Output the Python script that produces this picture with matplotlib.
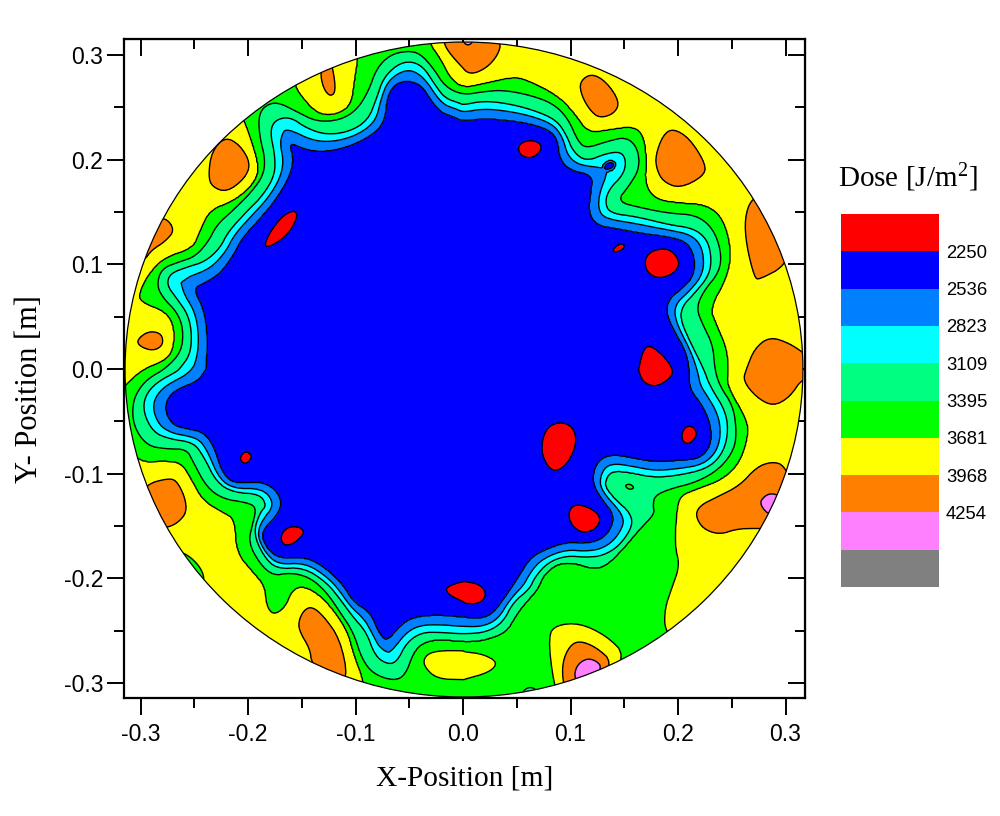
import numpy as np
import matplotlib
matplotlib.use("Agg")
import matplotlib.pyplot as plt
from matplotlib.path import Path
from matplotlib.patches import Ellipse
from matplotlib.colors import ListedColormap

plt.rcParams['mathtext.fontset'] = 'custom'
plt.rcParams['mathtext.rm'] = 'Liberation Serif'
plt.rcParams['mathtext.default'] = 'rm'

# calibration of the digitised picture quadrants to metres
def _conv(pts, ox, oy):
    p = np.array(pts, float)
    return np.c_[(ox + p[:, 0] / 3 - 463) / 1075, (369 - (oy + p[:, 1] / 3)) / 1047]
def nw(p): return _conv(p, 120, 35)
def ne(p): return _conv(p, 463, 35)
def sw(p): return _conv(p, 120, 369)
def se(p): return _conv(p, 463, 369)
def join(*a): return np.vstack(a)

dose_levels = [2250, 2536, 2823, 3109, 3395, 3681, 3968, 4254]
band_colors = ['#ff0000', '#0000ff', '#0080ff', '#00ffff', '#00ff80',
               '#00ff00', '#ffff00', '#ff8000', '#ff80ff', '#808080']
x_ticks = [-0.3, -0.2, -0.1, 0.0, 0.1, 0.2, 0.3]

# iso-dose line 2536
iso_2536 = join(
    nw([(258,1002),(262,900),(250,820),(218,760),(260,740),(300,715),(340,660),(365,610),(420,550),(470,490),
        (510,420),(520,370),(505,320),(560,345),(620,350),(700,330),(770,290),(795,250),(800,190),(820,150),
        (860,135),(905,150),(930,190),(960,230),(1000,245)]),
    ne([(0,258),(60,250),(130,255),(200,265),(260,285),(285,315),(290,370),(320,405),(390,420),(385,470),
        (377,530),(400,570),(460,580),(540,595),(620,605),(670,620),(695,660),(695,720),(660,760),(620,790),
        (610,830),(630,880),(670,950),(680,1002)]),
    se([(680,60),(720,110),(745,170),(745,230),(710,270),(650,275),(580,280),(520,270),(460,258),(420,265),
        (395,295),(390,345),(420,395),(450,430),(450,470),(420,510),(370,525),(310,520),(240,545),(200,570),
        (170,620),(130,680),(90,735),(50,750),(0,745)]),
    sw([(950,738),(880,745),(840,770),(800,820),(775,790),(750,730),(700,700),(670,650),(620,600),(560,565),
        (480,570),(440,540),(420,490),(470,440),(485,400),(465,360),(420,338),(340,345),(305,310),(280,230),
        (250,190),(200,180),(160,170),(135,130),(140,90),(170,60),(235,35),(254,5)]))

# iso-dose line 3109
iso_3109 = join(
    nw([(180,1000),(210,960),(216,900),(205,840),(170,790),(140,750),(150,715),(205,695),(255,680),(300,640),
        (325,590),(380,530),(430,480),(465,420),(465,360),(450,290),(465,255),(510,245),(560,280),(620,300),
        (690,290),(745,255),(770,190),(790,130),(830,90),(870,78),(910,95),(945,150),(975,190),(1020,205)]),
    ne([(0,210),(60,198),(130,205),(210,225),(280,255),(310,300),(330,350),(370,380),(430,355),(475,350),
        (490,380),(480,420),(440,460),(425,500),(440,535),(520,545),(620,570),(690,580),(730,610),(745,660),
        (740,720),(690,780),(660,810),(650,850),(680,920),(722,1002)]),
    se([(740,50),(790,130),(795,200),(775,260),(730,300),(640,320),(570,325),(500,310),(450,305),(430,325),
        (425,355),(460,395),(500,430),(510,470),(470,530),(420,560),(370,565),(310,560),(255,580),(215,625),
        (200,660),(150,700),(120,760),(70,790),(0,795)]),
    sw([(960,790),(905,790),(860,820),(830,880),(800,885),(765,860),(740,790),(700,745),(660,690),(620,640),
        (550,595),(470,600),(430,560),(400,490),(420,430),(440,410),(420,375),(340,370),(290,340),(250,260),
        (220,220),(150,210),(100,190),(70,130),(75,80),(110,40),(170,8)]))

# iso-dose line 3395
iso_3395 = join(
    nw([(135,1002),(185,950),(190,880),(170,830),(130,790),(110,750),(125,700),(180,680),(225,665),(265,620),
        (290,570),(340,525),(395,470),(430,420),(435,370),(420,310),(415,250),(430,215),(470,200),(530,230),
        (590,260),(660,255),(710,225),(745,170),(770,100),(810,60),(860,48),(900,55),(940,100),(975,155)]),
    ne([(0,180),(60,170),(120,165),(200,180),(270,205),(315,250),(345,320),(370,340),(430,320),(490,305),
        (525,340),(530,400),(500,450),(460,500),(540,520),(620,535),(700,540),(750,580),(775,650),(770,710),
        (720,770),(700,820),(720,870),(750,930),(755,1002)]),
    se([(770,50),(810,110),(820,180),(815,240),(770,300),(700,340),(620,360),(575,380),(570,410),(575,435),
        (530,480),(480,540),(430,590),(390,600),(330,580),(280,585),(240,620),(225,660),(180,710),(155,745),
        (130,790),(60,815),(0,818)]),
    sw([(960,810),(910,820),(880,850),(855,920),(820,935),(760,915),(725,870),(700,790),(660,730),(620,670),
        (570,625),(510,610),(460,620),(420,585),(385,520),(400,460),(410,415),(380,400),(310,390),(260,355),
        (220,280),(200,240),(140,240),(80,230),(40,170),(38,100),(60,55),(90,25)]))

# iso-dose line 3681 (runs outside the disc where green meets the rim)
iso_3681 = join(
    nw([(70,1003),(130,980),(160,950),(165,880),(140,830),(60,800),(60,770),(85,720),(130,670),(220,640),
        (240,590),(270,525),(340,500),(400,450),(420,400),(390,300),(372,255),(360,220),(440,130),(530,100),
        (520,150),(560,205),(600,240),(650,240),(695,210),(705,130),(715,68),(710,10),(930,-30),(925,22),
        (960,70),(990,130)]),
    ne([(0,160),(70,145),(150,127),(190,135),(280,180),(330,230),(375,295),(440,285),(510,275),(540,300),
        (550,370),(545,450),(580,495),(650,505),(730,510),(780,550),(805,650),(790,730),(740,820),(760,870),
        (790,940),(795,1002)]),
    se([(790,50),(850,150),(855,200),(830,280),(780,330),(700,360),(650,380),(640,430),(635,530),(650,590),
        (625,660),(605,720),(605,785),(650,830),(500,960),(300,1060),(100,1060)]),
    sw([(900,1060),(730,1010),(735,945),(700,850),(685,790),(640,720),(590,670),(545,650),(515,665),(495,715),
        (460,738),(440,710),(435,650),(400,610),(350,550),(345,450),(310,430),(250,395),(220,340),(185,280),
        (130,275),(60,280),(-25,200),(-30,100),(20,45)]))

# closed patches: (outline, level, +1 above level inside / -1 below level inside)
yellow_patches = [
    (join(se([(272,948),(255,800),(280,768),(350,762),(430,800),(490,860),(420,970),(300,1010)])), 3681, 1),
    (join(sw([(1035,845),(950,845),(915,860),(910,890),(950,930),(1035,932)]),
          se([(0,932),(80,910),(105,880),(60,855),(0,848)])), 3681, 1),
]
green_patches = [
    (sw([(178,545),(220,570),(250,610),(252,645),(200,650),(140,570)]), 3681, -1),
]
orange_patches = [
    (nw([(620,50),(600,110),(610,160),(630,185),(648,170),(638,95)]), 3968, 1),
    (nw([(315,305),(360,330),(392,385),(375,430),(320,472),(275,455),(265,420),(275,350)]), 3968, 1),
    (nw([(135,545),(165,585),(135,620),(95,645),(70,680),(40,640),(80,560)]), 3968, 1),
    (nw([(50,915),(85,888),(125,895),(130,930),(100,948),(60,935)]), 3968, 1),
    (join(nw([(980,-30),(970,20),(985,50),(1020,90)]), ne([(20,120),(70,100),(105,60),(115,20),(60,-30)])), 3968, 1),
    (ne([(350,140),(385,115),(430,140),(470,200),(455,235),(410,250),(380,225),(355,180)]), 3968, 1),
    (ne([(578,360),(600,300),(630,280),(680,310),(730,390),(720,425),(650,460),(600,440),(580,400)]), 3968, 1),
    (ne([(865,490),(845,550),(850,630),(875,730),(890,733),(968,692),(1000,600),(920,470)]), 3968, 1),
    (join(ne([(850,1002),(875,940),(920,905),(980,925),(1030,960),(1090,1002)]),
          se([(1060,40),(1020,25),(980,85),(930,112),(880,85),(840,35)])), 3968, 1),
    (se([(965,288),(925,278),(880,295),(830,350),(760,385),(710,410),(697,440),(720,480),(770,497),(820,480),
         (875,478),(930,480),(1000,380)]), 3968, 1),
    (se([(300,945),(298,880),(320,830),(350,815),(400,835),(450,880),(400,970),(320,990)]), 3968, 1),
    (sw([(80,345),(145,328),(170,335),(195,385),(200,430),(175,460),(145,475),(100,480),(50,400)]), 3968, 1),
    (sw([(535,760),(550,725),(575,712),(610,740),(660,810),(685,930),(640,960),(575,885),(570,840),(540,790)]), 3968, 1),
]
violet_patches = [
    (join(ne([(0,-20),(0,22),(15,32),(30,22),(30,-20)])), 4254, 1),
    (se([(888,405),(905,380),(930,372),(970,390),(925,445)]), 4254, 1),
    (se([(333,930),(340,890),(370,868),(400,875),(418,897),(370,970)]), 4254, 1),
]
tiny_patches = [
    (se([(175,970),(200,952),(225,965),(200,985)]), 3395, -1),
    (se([(484,350),(500,344),(515,356),(500,363)]), 3395, 1),
    (ne([(420,403),(435,382),(455,385),(445,402)]), 2536, -1),
]
red_patches = [
    (nw([(430,640),(450,590),(490,540),(525,525),(533,545),(510,590),(470,625)]), 2250, -1),
    (ne([(165,330),(195,315),(230,322),(237,345),(205,372),(170,360)]), 2250, -1),
    (ne([(448,645),(470,625),(487,630),(478,645),(455,652)]), 2250, -1),
    (ne([(545,670),(570,645),(620,640),(652,680),(635,715),(585,732),(550,710)]), 2250, -1),
    (join(ne([(527,1002),(540,945),(560,930),(600,960),(630,1002)]), se([(625,25),(580,55),(540,40),(527,5)])), 2250, -1),
    (se([(235,220),(255,170),(300,158),(335,180),(340,230),(310,290),(270,310),(240,270)]), 2250, -1),
    (se([(655,195),(670,170),(695,175),(702,200),(680,225),(660,220)]), 2250, -1),
    (se([(315,430),(335,405),(380,415),(415,445),(400,480),(360,493),(325,470)]), 2250, -1),
    (join(sw([(975,660),(1000,645),(1035,637)]), se([(0,637),(50,645),(72,675),(50,705),(0,703)]), sw([(1035,700),(990,680)])), 2250, -1),
    (sw([(360,262),(378,245),(398,262),(380,285),(365,280)]), 2250, -1),
    (sw([(480,500),(505,472),(545,475),(553,495),(520,525),(490,530)]), 2250, -1),
]

def chaikin(p, n=2):
    for _ in range(n):
        q = np.roll(p, -1, axis=0)
        out = np.empty((2 * len(p), 2))
        out[0::2] = 0.75 * p + 0.25 * q
        out[1::2] = 0.25 * p + 0.75 * q
        p = out
    return p

gx = np.linspace(-0.33, 0.33, 680)
gy = np.linspace(-0.33, 0.33, 680)
X, Y = np.meshgrid(gx, gy)

def signed_dist(poly, X, Y):
    """Positive outside the closed outline, negative inside."""
    p = chaikin(poly)
    q = np.roll(p, -1, axis=0)
    d2 = np.full(X.shape, np.inf)
    for a, b in zip(p, q):
        ab = b - a
        t = np.clip(((X - a[0])*ab[0] + (Y - a[1])*ab[1]) / max(ab @ ab, 1e-14), 0, 1)
        d2 = np.minimum(d2, (X - a[0] - t*ab[0])**2 + (Y - a[1] - t*ab[1])**2)
    inside = Path(p).contains_points(np.c_[X.ravel(), Y.ravel()]).reshape(X.shape)
    return np.where(inside, -1, 1) * np.sqrt(d2)

d1 = signed_dist(iso_2536, X, Y)
dm = signed_dist(iso_3109, X, Y)
d2 = signed_dist(iso_3395, X, Y)
d3 = signed_dist(iso_3681, X, Y)

def frac(a, b):
    return np.abs(a) / (np.abs(a) + np.abs(b) + 1e-9)

Z = np.minimum(3681 + 3000*d3, 3800)
m = d3 <= 0
Z[m] = (3395 + 286*frac(d2, d3))[m]
m = d2 <= 0
Z[m] = (3109 + 286*frac(dm, d2))[m]
m = dm <= 0
Z[m] = (2536 + 573*frac(d1, dm)**1.16)[m]
m = d1 <= 0
Z[m] = np.maximum(2536 + 3000*d1, 2320)[m]

SLOPE, BAND, CAP = 80000.0, 0.002, 110.0
for group in (yellow_patches, green_patches, orange_patches, violet_patches, tiny_patches, red_patches):
    for poly, level, sign in group:
        pad = 0.004
        ix = np.where((gx > poly[:, 0].min() - pad) & (gx < poly[:, 0].max() + pad))[0]
        iy = np.where((gy > poly[:, 1].min() - pad) & (gy < poly[:, 1].max() + pad))[0]
        if len(ix) == 0 or len(iy) == 0:
            continue
        sx = np.ix_(iy, ix)
        sd = signed_dist(poly, X[sx], Y[sx])
        zsub = Z[sx]
        in_mask = sd <= 0
        band_mask = (sd > 0) & (sd < BAND)
        zsub[in_mask] = level + sign*np.minimum(-sd[in_mask]*SLOPE, CAP)
        zsub[band_mask] = level - sign*sd[band_mask]*SLOPE
        Z[sx] = zsub

fig = plt.figure(figsize=(10.0, 8.16), dpi=100)
ax = fig.add_axes([124/1000, 1 - 698/816, 681/1000, 659/816])
ax.set_xlim((124 - 463)/1075, (805 - 463)/1075)
ax.set_ylim((369 - 698)/1047, (369 - 39)/1047)

rim = Ellipse((0.0009, -0.0005), 2*0.3153, 2*0.3128, facecolor='none', edgecolor='black', lw=0.9, zorder=5)
ax.add_patch(rim)
fill_levels = [1500] + dose_levels + [5000]
cf = ax.contourf(X, Y, Z, levels=fill_levels, colors=band_colors[:9])
cl = ax.contour(X, Y, Z, levels=dose_levels, colors='black', linewidths=1.0)
cf.set_clip_path(rim)
cl.set_clip_path(rim)

minor = np.arange(-0.25, 0.3, 0.1)
ax.set_xticks(x_ticks)
ax.set_yticks(x_ticks)
ax.set_xticks(minor, minor=True)
ax.set_yticks(minor, minor=True)
ax.set_xticklabels([f'{v:.1f}' for v in x_ticks], family='Liberation Sans')
ax.set_yticklabels([f'{v:.1f}' for v in x_ticks], family='Liberation Sans')
ax.tick_params(which='major', direction='out', length=12, width=1.4, labelsize=16.5)
ax.tick_params(which='minor', direction='out', length=7, width=1.4)
ax.tick_params(axis='x', which='major', pad=6)
ax.tick_params(axis='y', which='major', pad=3)
for s in ax.spines.values():
    s.set_linewidth(1.6)

top = ax.secondary_xaxis('top')
top.set_xticks(x_ticks)
top.set_xticks(minor, minor=True)
top.tick_params(which='major', direction='in', length=12, width=1.4, labeltop=False)
top.tick_params(which='minor', direction='in', length=7, width=1.4)
right = ax.secondary_yaxis('right')
right.set_yticks(x_ticks)
right.set_yticks(minor, minor=True)
right.tick_params(which='major', direction='in', length=12, width=1.4, labelright=False)
right.tick_params(which='minor', direction='in', length=7, width=1.4)

fig.text(465/1000, 1 - 778/816, 'X-Position [m]', family='Liberation Serif', fontsize=21.2, ha='center', va='center')
fig.text(30/1000, 1 - 389/816, 'Y- Position [m]', family='Liberation Serif', fontsize=22, rotation=90, ha='center', va='center')
fig.text(908/1000, 1 - 178/816, 'Dose [J/m$^2$]', family='Liberation Serif', fontsize=21, ha='center', va='center')

cax = fig.add_axes([841/1000, 1 - 587/816, 98/1000, 373/816])
n = len(band_colors)
cax.pcolormesh([0, 1], np.arange(n + 1), np.arange(n)[::-1].reshape(-1, 1),
               cmap=ListedColormap(band_colors), vmin=-0.5, vmax=n - 0.5)
cax.set_xticks([])
cax.yaxis.tick_right()
cax.set_yticks(np.arange(n - 1, n - 1 - len(dose_levels), -1))
cax.set_yticklabels([str(v) for v in dose_levels], family='Liberation Sans', fontsize=13.3)
cax.tick_params(axis='y', length=0, pad=5)
for s in cax.spines.values():
    s.set_visible(False)

fig.savefig('out.png', dpi=100)
